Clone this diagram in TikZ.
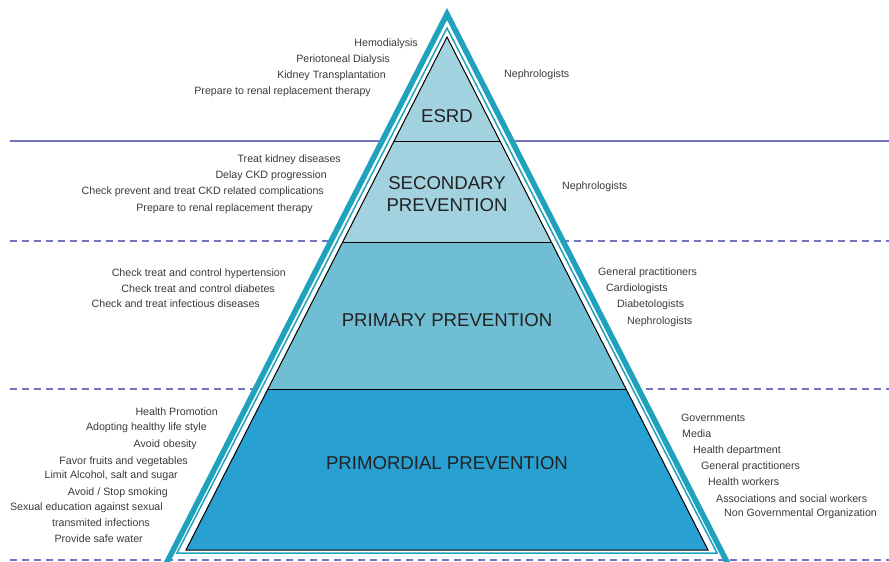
\documentclass[tikz,border=0pt]{standalone}
\usepackage{fontspec}
\setmainfont{Liberation Sans}
\definecolor{tealline}{HTML}{1FA2BC}
\definecolor{sepc}{HTML}{7373C2}
\definecolor{bandtop}{HTML}{A2D2E0}
\definecolor{bandmid}{HTML}{70BED4}
\definecolor{bandlow}{HTML}{29A0D2}
\definecolor{txt}{HTML}{3A3A3A}
\definecolor{lvltxt}{HTML}{222222}
\begin{document}
\begin{tikzpicture}[x=1pt,y=-1pt,
  lbl/.style={font=\fontsize{10.65}{12}\selectfont, text=txt, inner sep=0pt,
              text height=8pt, text depth=2pt},
  lft/.style={lbl, anchor=east},
  rgt/.style={lbl, anchor=west},
  level/.style={font=\fontsize{18.6}{21.5}\selectfont, text=lvltxt, align=center, inner sep=0pt},
  sepline/.style={draw=sepc, line width=1.2pt},
  sepdash/.style={sepline, dash pattern=on 7pt off 5pt},
  bandline/.style={draw=black, line width=1pt}]
\useasboundingbox (0,0) rectangle (889,562);

% level separators across the page
\draw[sepline] (10,141) -- (889,141);
\draw[sepdash] (10,241) -- (889,241);
\draw[sepdash] (10,389) -- (889,389);

% outer frame of the pyramid
\coordinate (otop) at (447,14);
\coordinate (oleft) at (166,564);
\coordinate (oright) at (728,564);
\fill[white] (otop) -- (oleft) -- (oright) -- cycle;
\draw[sepdash] (10,560) -- (889,560);
\draw[tealline, line width=5.5pt, line join=miter] (oleft) -- (otop) -- (oright);

% thin inner frame
\coordinate (ttop) at (447,28);
\coordinate (tleft) at (177,553);
\coordinate (tright) at (717,553);
\draw[tealline, line width=1.5pt, line join=miter] (ttop) -- (tleft) -- (tright) -- cycle;

% coloured levels
\coordinate (ptop) at (447,37);
\coordinate (pleft) at (186,550);
\coordinate (pright) at (708,550);
\begin{scope}
  \clip (ptop) -- (pleft) -- (pright) -- cycle;
  \fill[bandtop] (150,20) rectangle (750,242);
  \fill[bandmid] (150,242) rectangle (750,389);
  \fill[bandlow] (150,389) rectangle (750,560);
  \draw[bandline] (150,141) -- (750,141);
  \draw[bandline] (150,242) -- (750,242);
  \draw[bandline] (150,389) -- (750,389);
\end{scope}
\draw[bandline, line join=miter] (ptop) -- (pleft) -- (pright) -- cycle;

% level names
\node[level] (esrd) at (447,116) {ESRD};
\node[level] (secondary) at (447,194) {SECONDARY\\PREVENTION};
\node[level] (primary) at (447,320) {PRIMARY PREVENTION};
\node[level] (primordial) at (447,463) {PRIMORDIAL PREVENTION};

% ESRD
\node[lft] (e1) at (418,43) {Hemodialysis};
\node[lft] (e2) at (390,59) {Periotoneal Dialysis};
\node[lft] (e3) at (386,75) {Kidney Transplantation};
\node[lft] (e4) at (371,91) {Prepare to renal replacement therapy};
\node[rgt] (er1) at (504,74) {Nephrologists};

% secondary prevention
\node[lft] (s1) at (341,159) {Treat kidney diseases};
\node[lft] (s2) at (327,175) {Delay CKD progression};
\node[lft] (s3) at (324,191) {Check prevent and treat CKD related complications};
\node[lft] (s4) at (313,208) {Prepare to renal replacement therapy};
\node[rgt] (sr1) at (562,186) {Nephrologists};

% primary prevention
\node[lft] (p1) at (286,273) {Check treat and control hypertension};
\node[lft] (p2) at (275,289) {Check treat and control diabetes};
\node[lft] (p3) at (260,304) {Check and treat infectious diseases};
\node[rgt] (pr1) at (598,272) {General practitioners};
\node[rgt] (pr2) at (606,288) {Cardiologists};
\node[rgt] (pr3) at (617,304) {Diabetologists};
\node[rgt] (pr4) at (627,321) {Nephrologists};

% primordial prevention
\node[lft] (m1) at (218,412) {Health Promotion};
\node[lft] (m2) at (207,427) {Adopting healthy life style};
\node[lft] (m3) at (197,444) {Avoid obesity};
\node[lft] (m4) at (188,461) {Favor fruits and vegetables};
\node[lft] (m5) at (178,475) {Limit Alcohol, salt and sugar};
\node[lft] (m6) at (168,492) {Avoid / Stop smoking};
\node[lft] (m7) at (163,507) {Sexual education against sexual};
\node[lft] (m8) at (150,523) {transmited infections};
\node[lft] (m9) at (143,539) {Provide safe water};
\node[rgt] (mr1) at (681,418) {Governments};
\node[rgt] (mr2) at (682,434) {Media};
\node[rgt] (mr3) at (693,450) {Health department};
\node[rgt] (mr4) at (701,466) {General practitioners};
\node[rgt] (mr5) at (708,482) {Health workers};
\node[rgt] (mr6) at (716,499) {Associations and social workers};
\node[rgt] (mr7) at (724,513) {Non Governmental Organization};
\end{tikzpicture}
\end{document}
